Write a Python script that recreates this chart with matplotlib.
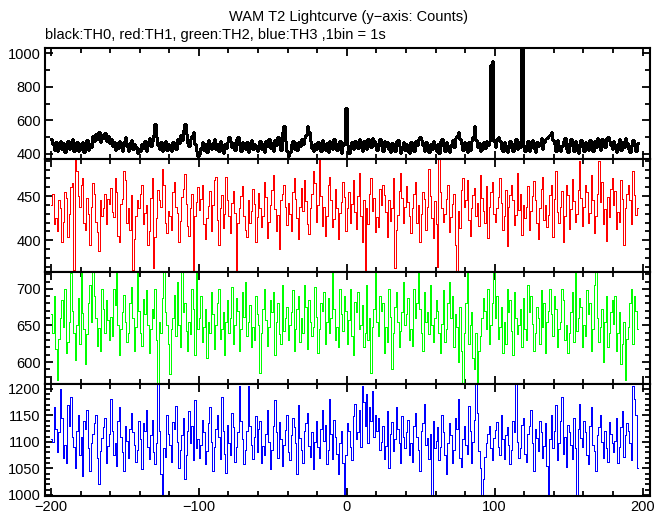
"""WAM T2 lightcurve: four energy thresholds stacked, 1 s bins."""
import matplotlib

matplotlib.use("Agg")
import matplotlib.pyplot as plt
import numpy as np
from matplotlib.ticker import MultipleLocator

plt.rcParams["font.family"] = ["Liberation Sans", "DejaVu Sans"]

T_START = -200  # left edge of first 1 s bin

# counts per 1 s bin, rows of 20 bins starting at -200, -180, ...
th0 = [
    490, 462, 425, 470, 418, 455, 480, 432, 468, 410, 452, 475, 428, 460, 488, 420, 446, 472, 415, 458,
    432, 470, 412, 455, 484, 425, 462, 440, 505, 478, 520, 488, 530, 470, 512, 495, 525, 480, 505, 468,
    490, 445, 472, 425, 466, 438, 480, 452, 418, 470, 500, 448, 420, 465, 485, 428, 458, 440, 405, 430,
    415, 462, 438, 475, 420, 468, 492, 445, 480, 510, 580, 498, 455, 430, 470, 418, 452, 478, 425, 462,
    440, 418, 470, 452, 430, 488, 465, 510, 485, 540, 580, 520, 468, 445, 490, 505, 530, 462, 418, 385,
    402, 438, 470, 425, 458, 412, 482, 445, 428, 465, 490, 432, 460, 418, 475, 448, 405, 462, 438, 470,
    500, 478, 440, 465, 425, 490, 500, 452, 418, 470, 445, 428, 472, 410, 458, 482, 430, 462, 440, 415,
    455, 480, 428, 462, 410, 475, 448, 490, 435, 468, 420, 485, 452, 498, 470, 425, 530, 565, 475, 418,
    385, 412, 458, 480, 430, 465, 422, 470, 445, 488, 460, 495, 510, 565, 530, 480, 438, 415, 462, 428,
    470, 440, 418, 482, 455, 425, 468, 410, 478, 450, 432, 490, 445, 422, 465, 478, 408, 452, 470, 675,
    455, 405, 445, 472, 428, 480, 462, 435, 490, 468, 420, 475, 450, 430, 488, 465, 440, 495, 478, 445,
    422, 468, 490, 450, 418, 480, 445, 470, 428, 412, 465, 440, 420, 478, 485, 445, 408, 430, 472, 425,
    460, 418, 405, 472, 440, 415, 478, 452, 488, 500, 482, 455, 420, 470, 445, 410, 462, 432, 480, 448,
    420, 462, 408, 475, 490, 445, 418, 472, 435, 410, 455, 485, 440, 495, 505, 530, 490, 462, 425, 470,
    448, 412, 470, 425, 478, 500, 565, 485, 440, 468, 415, 430, 472, 438, 480, 452, 475, 930, 950, 480,
    440, 490, 500, 475, 430, 418, 470, 450, 412, 438, 475, 445, 420, 465, 488, 430, 470, 440, 1080, 445,
    418, 455, 478, 420, 462, 485, 438, 410, 470, 445, 462, 492, 428, 470, 488, 495, 505, 512, 530, 485,
    462, 420, 482, 450, 415, 448, 475, 495, 430, 412, 465, 490, 445, 420, 478, 452, 408, 455, 485, 440,
    415, 470, 448, 425, 482, 460, 418, 475, 440, 495, 462, 425, 488, 470, 440, 495, 500, 478, 452, 430,
    475, 448, 412, 460, 488, 425, 470, 440, 495, 468, 432, 410, 455, 482, 445, 420, 468,
]

th1 = [
    440, 452, 418, 425, 410, 446, 436, 398, 421, 455, 448, 404, 430, 460, 465, 366, 492, 478, 450, 438,
    462, 470, 420, 412, 448, 430, 395, 438, 465, 452, 421, 409, 388, 445, 428, 436, 452, 418, 447, 441,
    459, 432, 426, 470, 455, 405, 398, 441, 447, 478, 468, 420, 436, 412, 451, 366, 401, 428, 445, 437,
    452, 462, 418, 431, 440, 395, 410, 448, 471, 368, 404, 425, 457, 446, 438, 481, 462, 419, 408, 433,
    427, 412, 455, 466, 438, 431, 398, 422, 449, 458, 475, 441, 416, 405, 437, 452, 366, 428, 443, 460,
    434, 447, 462, 418, 401, 425, 439, 456, 411, 440, 468, 472, 423, 395, 436, 451, 414, 430, 472, 445,
    427, 408, 442, 456, 431, 366, 419, 437, 450, 461, 428, 412, 404, 445, 420, 433, 458, 441, 398, 426,
    454, 437, 415, 428, 466, 449, 403, 421, 440, 457, 474, 435, 410, 429, 390, 446, 452, 463, 438, 417,
    442, 430, 411, 455, 470, 447, 425, 401, 438, 459, 433, 468, 444, 418, 407, 436, 452, 478, 465, 421,
    440, 492, 450, 416, 438, 405, 427, 462, 472, 446, 415, 424, 458, 436, 401, 431, 443, 466, 449, 410,
    437, 455, 420, 441, 468, 432, 413, 450, 476, 428, 398, 446, 366, 437, 418, 452, 471, 433, 448, 409,
    426, 415, 458, 440, 463, 451, 432, 404, 445, 422, 437, 470, 368, 412, 429, 456, 476, 448, 420, 438,
    461, 443, 427, 408, 436, 452, 466, 419, 440, 398, 430, 455, 447, 412, 438, 481, 450, 425, 403, 444,
    418, 370, 492, 455, 436, 421, 430, 447, 462, 409, 426, 441, 452, 395, 364, 433, 414, 457, 471, 438,
    446, 468, 423, 405, 437, 451, 459, 428, 442, 416, 474, 448, 433, 420, 461, 402, 438, 455, 466, 430,
    421, 436, 449, 470, 442, 412, 427, 457, 394, 438, 451, 463, 445, 417, 429, 476, 434, 452, 406, 440,
    425, 438, 461, 412, 433, 450, 467, 445, 419, 401, 436, 458, 472, 423, 440, 415, 429, 451, 462, 404,
    447, 478, 432, 420, 438, 456, 398, 427, 463, 451, 413, 435, 469, 444, 421, 430, 457, 490, 448, 416,
    438, 462, 455, 419, 431, 474, 446, 408, 427, 452, 490, 443, 466, 418, 435, 399, 449, 426, 458, 471,
    440, 456, 413, 432, 421, 468, 447, 395, 436, 452, 463, 445, 418, 478, 451, 429, 437,
]

th2 = [
    665, 640, 690, 618, 575, 632, 660, 685, 648, 700, 612, 628, 655, 722, 670, 640, 603, 651, 688, 625,
    723, 667, 645, 598, 638, 680, 705, 655, 723, 690, 660, 622, 647, 615, 700, 672, 640, 685, 658, 630,
    662, 635, 700, 678, 723, 650, 610, 645, 668, 692, 655, 628, 640, 680, 703, 660, 615, 648, 723, 670,
    640, 622, 686, 665, 698, 650, 612, 645, 673, 660, 700, 630, 570, 655, 640, 688, 723, 668, 650, 625,
    583, 645, 660, 692, 635, 710, 650, 620, 723, 668, 680, 642, 615, 655, 638, 700, 672, 610, 723, 645,
    660, 690, 628, 648, 672, 605, 655, 640, 695, 665, 618, 650, 680, 700, 632, 645, 668, 610, 655, 685,
    640, 660, 702, 625, 650, 688, 670, 615, 645, 695, 662, 710, 635, 655, 678, 620, 648, 630, 690, 665,
    650, 585, 640, 672, 700, 658, 622, 648, 685, 668, 695, 610, 655, 680, 638, 625, 705, 643, 660, 675,
    630, 650, 668, 698, 615, 645, 672, 690, 628, 660, 640, 705, 675, 618, 685, 655, 635, 648, 702, 662,
    612, 645, 680, 670, 695, 625, 655, 688, 640, 660, 723, 672, 630, 648, 620, 700, 665, 642, 690, 670,
    625, 658, 700, 635, 610, 682, 668, 695, 645, 650, 678, 620, 640, 705, 630, 660, 585, 648, 672, 723,
    655, 635, 690, 670, 680, 612, 648, 628, 700, 662, 590, 640, 675, 695, 655, 620, 642, 668, 710, 650,
    665, 688, 630, 645, 622, 700, 660, 680, 723, 672, 640, 615, 695, 655, 668, 638, 705, 650, 628, 660,
    685, 670, 640, 612, 652, 698, 628, 645, 680, 710, 660, 690, 620, 665, 648, 600, 675, 615, 570, 640,
    680, 723, 625, 650, 668, 605, 590, 640, 572, 615, 635, 660, 688, 670, 645, 700, 625, 650, 680, 723,
    660, 690, 632, 648, 675, 612, 655, 625, 700, 668, 685, 642, 610, 695, 660, 638, 650, 672, 620, 688,
    645, 630, 705, 668, 690, 652, 615, 640, 675, 660, 625, 698, 648, 680, 612, 655, 670, 700, 665, 635,
    690, 672, 620, 645, 655, 700, 685, 630, 650, 612, 640, 668, 695, 628, 723, 642, 660, 688, 675, 620,
    650, 635, 698, 665, 680, 615, 645, 705, 723, 660, 628, 648, 672, 600, 655, 690, 620, 640, 668, 685,
    652, 690, 615, 640, 668, 598, 625, 655, 575, 632, 648, 680, 700, 625, 690, 670, 645,
]

th3 = [
    1105, 1100, 1165, 1125, 1080, 1118, 1200, 1145, 1070, 1095, 1060, 1170, 1130, 1185, 1110, 1090, 1050, 1120, 1150, 1075,
    1110, 1035, 1140, 1125, 1160, 1088, 1045, 1098, 1115, 1135, 1150, 1070, 1020, 1082, 1108, 1128, 1145, 1060, 1092, 1115,
    1180, 1120, 1075, 1098, 1055, 1140, 1165, 1110, 1080, 1045, 1130, 1102, 1070, 1125, 1155, 1118, 1095, 1062, 1085, 1140,
    1105, 1048, 1135, 1120, 1160, 1090, 1068, 1112, 1142, 1080, 1058, 1098, 1209, 1120, 1040, 1000, 1088, 1072, 1150, 1115,
    1095, 1062, 1138, 1125, 1168, 1100, 1050, 1085, 1112, 1145, 1030, 1075, 1120, 1158, 1098, 1130, 1065, 1178, 1088, 1105,
    1070, 1095, 1142, 1118, 1058, 1082, 1135, 1165, 1100, 1045, 1090, 1125, 1150, 1110, 1068, 1185, 1120, 1078, 1042, 1132,
    1098, 1075, 1155, 1128, 1062, 1090, 1118, 1205, 1140, 1105, 1058, 1085, 1120, 1205, 1130, 1095, 1068, 1110, 1148, 1080,
    1125, 1140, 1060, 1092, 1075, 1115, 1160, 1100, 1048, 1085, 1130, 1178, 1118, 1070, 1138, 1105, 1055, 1095, 1122, 1150,
    1080, 1065, 1112, 1145, 1128, 1098, 1040, 1170, 1108, 1085, 1060, 1120, 1135, 1155, 1092, 1072, 1118, 1048, 1100, 1140,
    1090, 1070, 1125, 1160, 1102, 1132, 1058, 1085, 1180, 1115, 1068, 1142, 1110, 1078, 1040, 1098, 1120, 1060, 1000, 1075,
    1135, 1120, 1090, 1065, 1148, 1172, 1105, 1118, 1160, 1090, 1205, 1175, 1130, 1190, 1098, 1165, 1140, 1195, 1110, 1150,
    1120, 1145, 1085, 1100, 1130, 1068, 1092, 1158, 1050, 1115, 1138, 1082, 1105, 1165, 1125, 1098, 1060, 1148, 1110, 1088,
    1118, 1142, 1075, 1098, 1062, 1130, 1155, 1110, 1085, 1045, 1120, 1135, 1172, 1095, 1108, 1068, 1115, 1000, 1140, 1088,
    1102, 1128, 1065, 1090, 1150, 1118, 1075, 1040, 1098, 1135, 1112, 1060, 1085, 1145, 1125, 1180, 1070, 1052, 1105, 1130,
    1095, 1078, 1168, 1120, 1060, 1100, 1142, 1209, 1155, 1082, 1050, 1000, 1030, 1072, 1098, 1115, 1130, 1088, 1065, 1108,
    1122, 1138, 1090, 1075, 1150, 1105, 1068, 1112, 1128, 1095, 1058, 1085, 1140, 1118, 1209, 1100, 1070, 1088, 1132, 1145,
    1078, 1062, 1115, 1130, 1160, 1098, 1045, 1125, 1108, 1082, 1140, 1118, 1070, 1092, 1135, 1055, 1000, 1105, 1150, 1088,
    1120, 1170, 1065, 1098, 1140, 1185, 1078, 1110, 1052, 1132, 1118, 1095, 1068, 1145, 1088, 1000, 1125, 1172, 1108, 1090,
    1140, 1118, 1075, 1058, 1130, 1165, 1095, 1082, 1045, 1112, 1128, 1150, 1100, 1070, 1120, 1088, 1062, 1138, 1115, 1098,
    1080, 1102, 1145, 1060, 1090, 1128, 1158, 1072, 1112, 1135, 1120, 1098, 1065, 1205, 1180, 1150, 1050,
]

series = [th0, th1, th2, th3]
colors = ["black", "#ff0000", "#00ff00", "#0000ff"]
widths = [0.9, 0.65, 0.65, 0.65]
ylims = [(370, 1030), (364, 492), (570, 723), (998, 1209)]
ymajor = [200, 50, 50, 50]
yminor = [100, 10, 10, 10]

W, H = 669, 515
fig = plt.figure(figsize=(W / 100, H / 100), dpi=100)

left, right = 45 / W, 650 / W
bounds_px = [48, 159, 272, 384, 496]

for i, vals in enumerate(series):
    top = 1 - bounds_px[i] / H
    bot = 1 - bounds_px[i + 1] / H
    ax = fig.add_axes([left, bot, right - left, top - bot])
    x = np.arange(len(vals) + 1) + T_START
    y = list(vals) + [vals[-1]]
    ax.plot(x, y, drawstyle="steps-post", color=colors[i], lw=widths[i],
            antialiased=False)
    ax.set_xlim(-204, 205)
    ax.set_ylim(*ylims[i])
    ax.xaxis.set_major_locator(MultipleLocator(100))
    ax.xaxis.set_minor_locator(MultipleLocator(20))
    ax.yaxis.set_major_locator(MultipleLocator(ymajor[i]))
    ax.yaxis.set_minor_locator(MultipleLocator(yminor[i]))
    ax.tick_params(which="both", direction="in", top=True, right=True,
                   width=1.3, labelsize=10.5, pad=3)
    ax.tick_params(which="major", length=6)
    ax.tick_params(which="minor", length=3.5)
    if i < 3:
        ax.tick_params(labelbottom=False)
    for sp in ax.spines.values():
        sp.set_linewidth(1.5)

fig.text(0.5215, 1 - 17 / H, "WAM T2 Lightcurve (y\u2212axis: Counts)",
         ha="center", va="center", fontsize=10.5)
fig.text(left, 1 - 35 / H, "black:TH0, red:TH1, green:TH2, blue:TH3 ,1bin = 1s",
         ha="left", va="center", fontsize=10.5)

fig.savefig("out.png", dpi=100)
